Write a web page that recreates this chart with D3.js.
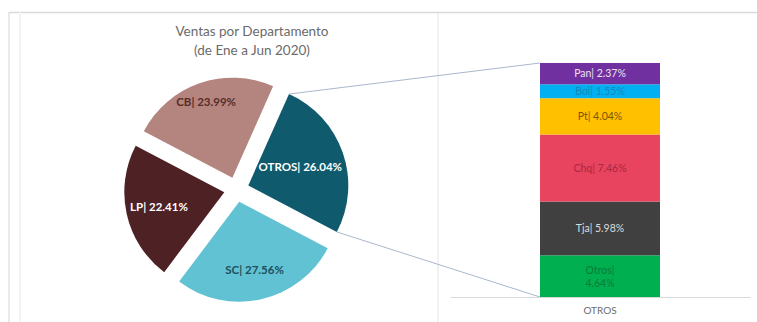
<!DOCTYPE html>
<html>
<head>
<meta charset="utf-8">
<script src="https://cdn.jsdelivr.net/npm/d3@7/dist/d3.min.js"></script>
<style>
  html, body { margin: 0; padding: 0; background: #fff; }
  svg { display: block; font-family: Lato, "Open Sans", sans-serif; }
</style>
</head>
<body>
<svg id="chart" width="757" height="322"></svg>
<script>
// Department sales share, January to June 2020
const pieCats = ["OTROS", "SC", "LP", "CB"];
const pieVals = [26.04, 27.56, 22.41, 23.99];

// Breakdown of the OTROS slice (bottom to top)
const barCats = ["Otros", "Tja", "Chq", "Pt", "Bol", "Pan"];
const barVals = [4.64, 5.98, 7.46, 4.04, 1.55, 2.37];
const barGroup = ["OTROS"];

const titleLines = ["Ventas por Departamento", "(de Ene a Jun 2020)"];

// ---- styling ----
const pieColors = { OTROS: "#0f5a6d", SC: "#60c2d2", LP: "#4e2125", CB: "#b3857e" };
const pieLabelColors = { OTROS: "#ffffff", SC: "#1f4f5c", LP: "#ffffff", CB: "#5a2c28" };
const pieLabelRadius = { OTROS: 0.55, SC: 0.70, LP: 0.67, CB: 0.80 };
const barColors = { Pan: "#7030a0", Bol: "#00b0f0", Pt: "#ffc000", Chq: "#e8435f", Tja: "#404040", Otros: "#00b050" };
const barLabelColors = { Pan: "#ece2f4", Bol: "#1a86b8", Pt: "#7a5600", Chq: "#a52a42", Tja: "#dcdcdc", Otros: "#0b7a36" };

const svg = d3.select("#chart");

// frame lines of the sheet area
svg.append("line").attr("x1", 9).attr("x2", 757).attr("y1", 12.5).attr("y2", 12.5)
  .attr("stroke", "#d9d9d9").attr("stroke-width", 1.5);
svg.append("line").attr("x1", 9).attr("x2", 9).attr("y1", 12).attr("y2", 322)
  .attr("stroke", "#e2e2e2").attr("stroke-width", 1.5);
svg.append("line").attr("x1", 20).attr("x2", 20).attr("y1", 12).attr("y2", 322)
  .attr("stroke", "#f1f1f1").attr("stroke-width", 1.5);
svg.append("line").attr("x1", 438).attr("x2", 438).attr("y1", 12).attr("y2", 322)
  .attr("stroke", "#e4e4e4").attr("stroke-width", 1);

// title
const title = svg.append("text").attr("text-anchor", "middle")
  .attr("fill", "#6b6b6b").attr("font-size", 13.5);
titleLines.forEach((t, i) => {
  title.append("tspan").attr("x", 252).attr("y", 36 + i * 19).text(t);
});

// ---- pie ----
const cx = 236.5, cy = 189.5, R = 100, explode = 12.5;
const start = 24 * Math.PI / 180;
const pie = d3.pie().sort(null).startAngle(start).endAngle(start + 2 * Math.PI);
const arcs = pie(pieVals).map((d, i) => Object.assign(d, { cat: pieCats[i] }));
const arcGen = d3.arc().innerRadius(0).outerRadius(R);

const pieG = svg.append("g").attr("transform", `translate(${cx},${cy})`);
function offset(d) {
  const a = (d.startAngle + d.endAngle) / 2;
  return [Math.sin(a) * explode, -Math.cos(a) * explode];
}
const slice = pieG.selectAll("g.slice").data(arcs).join("g")
  .attr("class", "slice")
  .attr("transform", d => `translate(${offset(d)})`);
slice.append("path").attr("d", arcGen)
  .attr("fill", d => pieColors[d.cat]);

slice.append("text")
  .attr("transform", d => {
    const r = R * pieLabelRadius[d.cat];
    const c = d3.arc().innerRadius(r).outerRadius(r).centroid(d);
    return `translate(${c})`;
  })
  .attr("text-anchor", "middle").attr("dy", "0.35em")
  .attr("font-size", 11.5).attr("font-weight", "bold")
  .attr("fill", d => pieLabelColors[d.cat])
  .text(d => `${d.cat}| ${d.value.toFixed(2)}%`);

// ---- stacked bar ----
const x = d3.scaleBand().domain(barGroup).range([450, 750]).paddingInner(0.4286).paddingOuter(0.4286);
const total = d3.sum(barVals);
const y = d3.scaleLinear().domain([0, total]).range([297, 63]);

const stackData = [Object.fromEntries(barCats.map((c, i) => [c, barVals[i]]))];
stackData[0].group = barGroup[0];
const series = d3.stack().keys(barCats)(stackData);

// connector lines from the OTROS slice to the bar
const otros = arcs[0];
const off = offset(otros);
const pTop = [cx + off[0] + Math.sin(otros.startAngle) * R, cy + off[1] - Math.cos(otros.startAngle) * R];
const pBot = [cx + off[0] + Math.sin(otros.endAngle) * R, cy + off[1] - Math.cos(otros.endAngle) * R];
const barLeft = x(barGroup[0]);
svg.append("line").attr("x1", pTop[0]).attr("y1", pTop[1]).attr("x2", barLeft).attr("y2", y(total))
  .attr("stroke", "#a9b8cc").attr("stroke-width", 1);
svg.append("line").attr("x1", pBot[0]).attr("y1", pBot[1]).attr("x2", barLeft).attr("y2", y(0))
  .attr("stroke", "#a9b8cc").attr("stroke-width", 1);

// category axis
const xAxis = svg.append("g").attr("transform", `translate(0,${y(0)})`)
  .call(d3.axisBottom(x).tickSize(0).tickPadding(10));
xAxis.select(".domain").attr("stroke", "#d9d9d9").attr("stroke-width", 1.2);
xAxis.selectAll("text").attr("fill", "#6b6b6b").attr("font-size", 10)
  .attr("font-family", "Lato, 'Open Sans', sans-serif");

const segs = svg.append("g").selectAll("g.seg").data(series).join("g").attr("class", "seg");
segs.append("rect")
  .attr("x", x(barGroup[0]))
  .attr("width", x.bandwidth())
  .attr("y", s => y(s[0][1]))
  .attr("height", s => y(s[0][0]) - y(s[0][1]))
  .attr("fill", s => barColors[s.key]);

segs.each(function (s) {
  const g = d3.select(this);
  const mid = (y(s[0][0]) + y(s[0][1])) / 2;
  const val = barVals[barCats.indexOf(s.key)];
  const label = `${s.key}| ${val.toFixed(2)}%`;
  const t = g.append("text").attr("text-anchor", "middle")
    .attr("font-size", 10.5).attr("fill", barLabelColors[s.key]);
  const cxBar = x(barGroup[0]) + x.bandwidth() / 2;
  if (s.key === "Otros") {
    t.append("tspan").attr("x", cxBar).attr("y", mid - 2).text(`${s.key}|`);
    t.append("tspan").attr("x", cxBar).attr("y", mid + 11).text(`${val.toFixed(2)}%`);
  } else {
    t.attr("x", cxBar).attr("y", mid).attr("dy", "0.35em").text(label);
  }
});
</script>
</body>
</html>
